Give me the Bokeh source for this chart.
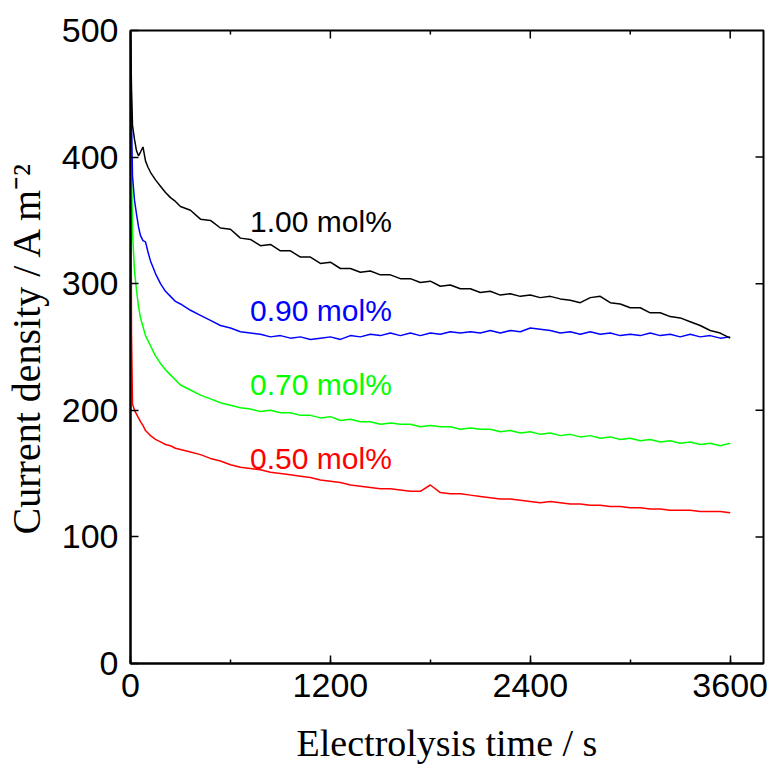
import math
from bokeh.plotting import figure
from bokeh.models import Range1d, SingleIntervalTicker, ColumnDataSource
from bokeh.core.properties import value
from bokeh.embed import file_html
from bokeh.resources import INLINE

time_s = [0, 6, 12, 24, 36, 48, 60, 75, 90, 105, 120, 150, 180, 210, 240, 270,
          300, 360, 420, 480, 540, 600, 660, 720, 780, 840, 900, 960, 1020, 1080,
          1140, 1200, 1260, 1320, 1380, 1440, 1500, 1560, 1620, 1680, 1740, 1800,
          1860, 1920, 1980, 2040, 2100, 2160, 2220, 2280, 2340, 2400, 2460, 2520,
          2580, 2640, 2700, 2760, 2820, 2880, 2940, 3000, 3060, 3120, 3180, 3240,
          3300, 3360, 3420, 3480, 3540, 3600]

cd_100 = [500, 455, 425, 414, 405, 401, 404, 408, 397, 392, 388, 382, 377, 372, 368, 365,
          361, 358, 351, 350, 344, 343, 336, 335, 330, 331, 326, 326, 321, 321, 316, 317,
          312, 312, 309, 310, 307, 307, 304, 304, 301, 302, 298, 299, 296, 296, 293, 294,
          291, 292, 290, 291, 289, 290, 288, 287, 285, 289, 290, 285, 284, 281, 281, 277,
          277, 274, 273, 270, 267, 263, 261, 257]
cd_090 = [500, 430, 385, 366, 355, 345, 338, 334, 333, 325, 318, 308, 300, 294, 290, 286,
          284, 279, 275, 271, 267, 265, 262, 261, 260, 258, 259, 257, 258, 256, 257, 258,
          256, 259, 258, 260, 259, 261, 259, 261, 259, 261, 260, 262, 261, 262, 261, 263,
          261, 263, 262, 265, 264, 263, 261, 262, 260, 262, 260, 261, 259, 260, 259, 261,
          259, 260, 258, 260, 258, 259, 257, 258]
cd_070 = [500, 400, 340, 310, 295, 282, 273, 266, 259, 255, 251, 243, 237, 232, 228, 224,
          220, 216, 212, 209, 206, 204, 202, 201, 199, 200, 198, 198, 196, 196, 194, 195,
          192, 193, 191, 191, 189, 190, 189, 189, 187, 188, 187, 187, 185, 186, 185, 185,
          183, 184, 182, 183, 181, 182, 180, 181, 179, 180, 178, 179, 177, 178, 176, 177,
          175, 176, 174, 175, 173, 174, 172, 174]
cd_050 = [500, 260, 205, 200, 197, 194, 191, 188, 184, 182, 180, 177, 175, 173, 172, 170,
          169, 167, 165, 162, 160, 157, 155, 154, 153, 151, 150, 149, 148, 147, 145, 144,
          143, 141, 140, 139, 138, 138, 137, 136, 136, 141, 135, 134, 134, 133, 132, 131,
          130, 130, 129, 128, 127, 128, 127, 126, 126, 125, 125, 124, 124, 123, 123, 122,
          122, 121, 121, 121, 120, 120, 120, 119]

series_names = ["0.50 mol%", "0.70 mol%", "0.90 mol%", "1.00 mol%"]
series_values = [cd_050, cd_070, cd_090, cd_100]
series_colors = ["#FF0000", "#00FF00", "#0000FF", "#000000"]
label_x = [718, 718, 718, 718]
label_y = [162, 220, 279, 349]

x_major_ticks = [1200, 2400, 3600]
x_minor_ticks = [600, 1800, 3000]
y_major_ticks = [100, 200, 300, 400]
x_max = 3800
y_max = 500

p = figure(frame_width=633, frame_height=633,
           x_range=Range1d(0, x_max), y_range=Range1d(0, y_max),
           output_backend="svg", toolbar_location=None,
           min_border_left=130, min_border_top=30, min_border_right=10, min_border_bottom=98)

p.xgrid.visible = False
p.ygrid.visible = False
p.outline_line_color = "black"
p.outline_line_width = 2
p.background_fill_color = "white"
p.border_fill_color = "white"

for vals, col in zip(series_values, series_colors):
    p.line(time_s, vals, line_color=col, line_width=1.5)

src = ColumnDataSource(dict(x=label_x, y=label_y, t=series_names, c=series_colors))
p.text(x="x", y="y", text="t", text_color="c", source=src,
       text_font=value("Liberation Sans"), text_font_size="30px",
       text_baseline="middle", text_align="left")

# inward ticks on the top and right frame edges
p.ray(x=x_major_ticks, y=[y_max] * len(x_major_ticks), length=8, length_units="screen",
      angle=-math.pi / 2, line_color="black", line_width=1.5)
p.ray(x=x_minor_ticks, y=[y_max] * len(x_minor_ticks), length=4, length_units="screen",
      angle=-math.pi / 2, line_color="black", line_width=1.5)
p.ray(x=[x_max] * len(y_major_ticks), y=y_major_ticks, length=8, length_units="screen",
      angle=math.pi, line_color="black", line_width=1.5)

def style_axis(ax, interval, minor):
    ax.ticker = SingleIntervalTicker(interval=interval, num_minor_ticks=minor)
    ax.axis_line_width = 2
    ax.major_tick_in = 8
    ax.major_tick_out = 0
    ax.minor_tick_in = 4
    ax.minor_tick_out = 0
    ax.major_tick_line_width = 1.5
    ax.minor_tick_line_width = 1.5
    ax.major_label_text_font = "Liberation Sans"
    ax.major_label_text_font_size = "34px"
    ax.major_label_text_color = "black"
    ax.axis_label_text_font = "Liberation Serif"
    ax.axis_label_text_font_style = "normal"
    ax.axis_label_text_color = "black"

xa = p.xaxis[0]
style_axis(xa, 1200, 2)
xa.axis_label = "Electrolysis time / s"
xa.axis_label_text_font_size = "38px"
xa.major_label_standoff = 10
xa.axis_label_standoff = 22

ya = p.yaxis[0]
style_axis(ya, 100, 0)
ya.minor_tick_line_color = None
ya.axis_label = "Current density / A m\u207b\u00b2"
ya.axis_label_text_font_size = "40px"
ya.major_label_standoff = 12
ya.axis_label_standoff = 10

open("out.html", "w").write(file_html(p, INLINE))
